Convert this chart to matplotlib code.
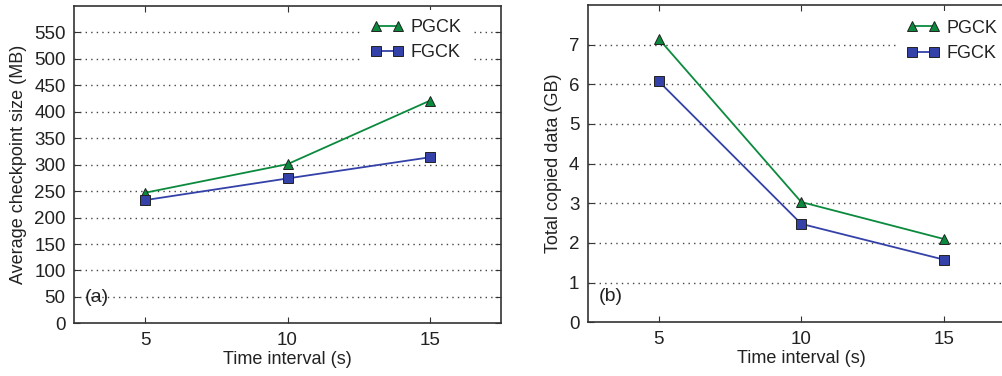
import matplotlib
matplotlib.use("Agg")
import matplotlib.pyplot as plt

plt.rcParams['font.family'] = ['Liberation Sans', 'DejaVu Sans']

intervals = [5, 10, 15]

# (a) average checkpoint size (MB)
size_pgck = [247, 301, 421]
size_fgck = [233, 274, 314]

# (b) total copied data (GB)
copied_pgck = [7.14, 3.03, 2.10]
copied_fgck = [6.07, 2.48, 1.58]

green = '#0b8a3e'
blue = '#3341a8'

fig = plt.figure(figsize=(10.03, 3.76), dpi=100)
ax1 = fig.add_axes([0.0738, 0.140, 0.4257, 0.844])
ax2 = fig.add_axes([0.586, 0.143, 0.4257, 0.844])


def style(ax, yticks, ylim, ylabel, tag):
    ax.set_xlim(2.5, 17.5)
    ax.set_ylim(*ylim)
    ax.set_xticks(intervals)
    ax.set_yticks(yticks)
    ax.tick_params(direction='in', top=True, right=True, length=4,
                   labelsize=13.5, color='#333333', labelcolor='#222222', pad=6)
    for s in ax.spines.values():
        s.set_color('#333333')
        s.set_linewidth(1.2)
    for y in yticks[1:]:
        ax.axhline(y, color='#444444', linestyle=(0, (1, 3)), linewidth=1, zorder=0)
    ax.set_xlabel('Time interval (s)', fontsize=13, color='#222222', labelpad=2)
    ax.set_ylabel(ylabel, fontsize=13, color='#222222', labelpad=5)
    ax.text(0.025, 0.08, tag, transform=ax.transAxes, fontsize=14, color='#222222',
            va='center')


def draw(ax, pg, fg):
    ax.plot(intervals, pg, color=green, marker='^', markersize=7,
            markerfacecolor=green, markeredgecolor='#222222', markeredgewidth=0.7,
            linewidth=1.3, label='PGCK')
    ax.plot(intervals, fg, color=blue, marker='s', markersize=7,
            markerfacecolor=blue, markeredgecolor='#222222', markeredgewidth=0.7,
            linewidth=1.3, label='FGCK')


draw(ax1, size_pgck, size_fgck)
style(ax1, list(range(0, 551, 50)), (0, 600), 'Average checkpoint size (MB)', '(a)')

draw(ax2, copied_pgck, copied_fgck)
style(ax2, list(range(0, 8)), (0, 8), 'Total copied data (GB)', '(b)')

for ax, anchor in [(ax1, (0.95, 1.015)), (ax2, (1.002, 1.01))]:
    leg = ax.legend(loc='upper right', bbox_to_anchor=anchor, fontsize=13,
                    numpoints=2, handlelength=1.8, handletextpad=0.4,
                    labelspacing=0.45, frameon=True, framealpha=1,
                    fancybox=False, borderpad=0.5)
    leg.get_frame().set_edgecolor('white')
    leg.get_frame().set_linewidth(0)
    for t in leg.get_texts():
        t.set_color('#222222')

fig.savefig('out.png', dpi=100)
